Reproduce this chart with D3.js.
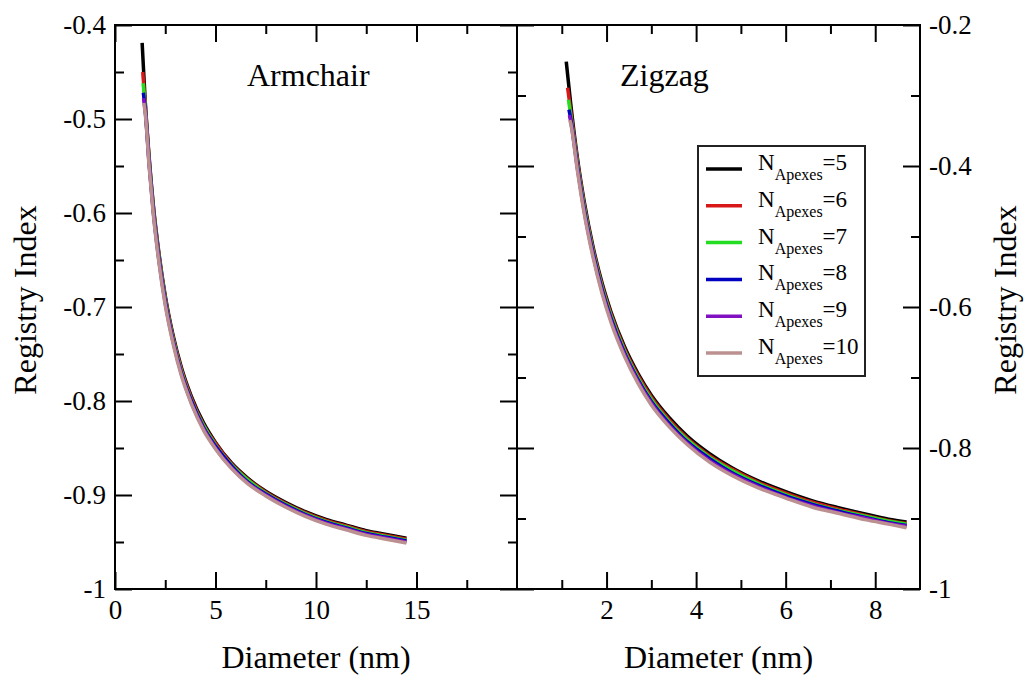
<!DOCTYPE html>
<html>
<head>
<meta charset="utf-8">
<script src="https://cdn.jsdelivr.net/npm/d3@7"></script>
<style>
  body { margin: 0; background: #fff; }
  svg { display: block; }
</style>
</head>
<body>
<div id="container"></div>
<script>
// data
const seriesNames = ["5", "6", "7", "8", "9", "10"];
const seriesColors = ["#000000", "#d81818", "#22dd22", "#0000c0", "#8010c0", "#bc9090"];

// armchair: first point of each series, then a common diameter grid
const armchairFirstD = [1.35, 1.38, 1.40, 1.41, 1.42, 1.43];
const armchairD = [1.5, 1.7, 1.9, 2.2, 2.5, 2.9, 3.3, 3.8, 4.4, 5.0, 5.8, 6.6, 7.5, 8.5, 9.5, 10.5, 11.5, 12.5, 13.5, 14.5];
const armchairN5  = [-0.419, -0.480, -0.541, -0.590, -0.645, -0.688, -0.731, -0.764, -0.795, -0.823, -0.844, -0.866, -0.882, -0.896, -0.908, -0.918, -0.926, -0.932, -0.938, -0.942, -0.946];
const armchairN6  = [-0.450, -0.483, -0.543, -0.592, -0.647, -0.690, -0.733, -0.766, -0.797, -0.825, -0.845, -0.867, -0.883, -0.897, -0.909, -0.919, -0.927, -0.933, -0.939, -0.943, -0.947];
const armchairN7  = [-0.462, -0.486, -0.545, -0.594, -0.649, -0.692, -0.735, -0.768, -0.799, -0.826, -0.847, -0.868, -0.884, -0.898, -0.910, -0.920, -0.928, -0.934, -0.940, -0.944, -0.948];
const armchairN8  = [-0.472, -0.489, -0.547, -0.596, -0.651, -0.694, -0.737, -0.770, -0.800, -0.828, -0.848, -0.869, -0.886, -0.899, -0.911, -0.921, -0.929, -0.935, -0.941, -0.945, -0.949];
const armchairN9  = [-0.478, -0.491, -0.549, -0.598, -0.653, -0.696, -0.738, -0.771, -0.802, -0.829, -0.850, -0.871, -0.887, -0.900, -0.912, -0.922, -0.930, -0.936, -0.942, -0.946, -0.950];
const armchairN10 = [-0.483, -0.493, -0.551, -0.600, -0.655, -0.698, -0.740, -0.773, -0.803, -0.831, -0.851, -0.872, -0.888, -0.901, -0.913, -0.923, -0.931, -0.937, -0.943, -0.947, -0.951];

// zigzag
const zigzagFirstD = [1.10, 1.13, 1.15, 1.16, 1.17, 1.18];
const zigzagD = [1.2, 1.35, 1.5, 1.7, 1.9, 2.1, 2.4, 2.7, 3.0, 3.4, 3.8, 4.3, 4.8, 5.4, 6.0, 6.6, 7.2, 7.8, 8.3, 8.7];
const zigzagN5  = [-0.252, -0.312, -0.389, -0.450, -0.515, -0.566, -0.607, -0.656, -0.694, -0.725, -0.757, -0.783, -0.808, -0.828, -0.847, -0.862, -0.875, -0.885, -0.894, -0.901, -0.905];
const zigzagN6  = [-0.289, -0.322, -0.393, -0.454, -0.518, -0.569, -0.610, -0.659, -0.697, -0.728, -0.760, -0.786, -0.811, -0.830, -0.849, -0.864, -0.877, -0.887, -0.896, -0.903, -0.907];
const zigzagN7  = [-0.306, -0.328, -0.397, -0.457, -0.521, -0.572, -0.613, -0.662, -0.700, -0.731, -0.763, -0.788, -0.813, -0.832, -0.851, -0.866, -0.879, -0.889, -0.897, -0.904, -0.908];
const zigzagN8  = [-0.320, -0.333, -0.401, -0.461, -0.524, -0.575, -0.616, -0.665, -0.703, -0.734, -0.765, -0.791, -0.815, -0.835, -0.853, -0.868, -0.880, -0.890, -0.899, -0.906, -0.910];
const zigzagN9  = [-0.328, -0.337, -0.404, -0.464, -0.527, -0.578, -0.619, -0.667, -0.705, -0.736, -0.768, -0.793, -0.818, -0.837, -0.855, -0.870, -0.882, -0.892, -0.900, -0.907, -0.911];
const zigzagN10 = [-0.335, -0.340, -0.407, -0.467, -0.530, -0.581, -0.622, -0.670, -0.708, -0.739, -0.770, -0.795, -0.820, -0.839, -0.857, -0.871, -0.884, -0.893, -0.902, -0.908, -0.913];

// ticks
const armchairXTicks = [0, 5, 10, 15];
const armchairXMinor = [2.5, 7.5, 12.5, 17.5];
const armchairYTicks = [-1, -0.9, -0.8, -0.7, -0.6, -0.5, -0.4];
const armchairYMinor = [-0.95, -0.85, -0.75, -0.65, -0.55, -0.45];
const zigzagXTicks = [2, 4, 6, 8];
const zigzagXMinor = [1, 3, 5, 7];
const zigzagYTicks = [-1, -0.8, -0.6, -0.4, -0.2];
const zigzagYMinor = [-0.9, -0.7, -0.5, -0.3];

const width = 1024, height = 677;
const plotTop = 25, plotBottom = 589;
const leftX = 115, midX = 517, rightX = 920;
const serif = '"Liberation Serif", "DejaVu Serif", "Times New Roman", serif';

const svg = d3.select("#container").append("svg")
  .attr("width", width)
  .attr("height", height)
  .style("font-family", serif);

const xL = d3.scaleLinear().domain([0, 20]).range([leftX, midX]);
const yL = d3.scaleLinear().domain([-1, -0.4]).range([plotBottom, plotTop]);
const xR = d3.scaleLinear().domain([0, 9]).range([midX, rightX]);
const yR = d3.scaleLinear().domain([-1, -0.2]).range([plotBottom, plotTop]);

const fmt = d => d === -1 ? "-1" : String(d);

function build(firstD, grid, vals) {
  return vals.map((v, i) => ({ d: i === 0 ? firstD : grid[i - 1], r: v }));
}
const armchairSeries = [armchairN5, armchairN6, armchairN7, armchairN8, armchairN9, armchairN10]
  .map((v, i) => build(armchairFirstD[i], armchairD, v));
const zigzagSeries = [zigzagN5, zigzagN6, zigzagN7, zigzagN8, zigzagN9, zigzagN10]
  .map((v, i) => build(zigzagFirstD[i], zigzagD, v));

// curves
function drawLines(series, x, y) {
  const line = d3.line().curve(d3.curveMonotoneX).x(d => x(d.d)).y(d => y(d.r));
  svg.append("g").selectAll("path")
    .data(series)
    .join("path")
      .attr("d", line)
      .attr("fill", "none")
      .attr("stroke", (d, i) => seriesColors[i])
      .attr("stroke-width", 3.5);
}
drawLines(armchairSeries, xL, yL);
drawLines(zigzagSeries, xR, yR);

// axes helper
function tickAxis(axis, pos, vals, size, labels, pad) {
  const g = svg.append("g")
    .attr("transform", pos)
    .call(axis.tickValues(vals).tickSize(size).tickPadding(pad || 8)
      .tickFormat(labels ? fmt : ""));
  g.attr("font-family", null).style("font-family", serif);
  g.select(".domain").remove();
  g.selectAll(".tick line").attr("stroke", "#000").attr("stroke-width", 2);
  g.selectAll(".tick text").style("font-size", "27px").style("font-family", serif).attr("fill", "#000");
  return g;
}

// left panel
tickAxis(d3.axisBottom(xL), `translate(0,${plotBottom})`, armchairXTicks, -17, true, 11);
tickAxis(d3.axisBottom(xL), `translate(0,${plotBottom})`, armchairXMinor, -9, false);
tickAxis(d3.axisTop(xL), `translate(0,${plotTop})`, armchairXTicks, -17, false);
tickAxis(d3.axisTop(xL), `translate(0,${plotTop})`, armchairXMinor, -9, false);
tickAxis(d3.axisLeft(yL), `translate(${leftX},0)`, armchairYTicks, -17, true, 9);
tickAxis(d3.axisLeft(yL), `translate(${leftX},0)`, armchairYMinor, -9, false);
tickAxis(d3.axisRight(yL), `translate(${midX},0)`, armchairYTicks, -17, false);
tickAxis(d3.axisRight(yL), `translate(${midX},0)`, armchairYMinor, -9, false);

// right panel
tickAxis(d3.axisBottom(xR), `translate(0,${plotBottom})`, zigzagXTicks, -17, true, 11);
tickAxis(d3.axisBottom(xR), `translate(0,${plotBottom})`, zigzagXMinor, -9, false);
tickAxis(d3.axisTop(xR), `translate(0,${plotTop})`, zigzagXTicks, -17, false);
tickAxis(d3.axisTop(xR), `translate(0,${plotTop})`, zigzagXMinor, -9, false);
tickAxis(d3.axisRight(yR), `translate(${rightX},0)`, zigzagYTicks, -17, true, 9);
tickAxis(d3.axisRight(yR), `translate(${rightX},0)`, zigzagYMinor, -9, false);
tickAxis(d3.axisLeft(yR), `translate(${midX},0)`, zigzagYTicks, -17, false);
tickAxis(d3.axisLeft(yR), `translate(${midX},0)`, zigzagYMinor, -9, false);

// frames
[[leftX, midX], [midX, rightX]].forEach(([a, b]) => {
  svg.append("rect")
    .attr("x", a).attr("y", plotTop)
    .attr("width", b - a).attr("height", plotBottom - plotTop)
    .attr("fill", "none").attr("stroke", "#000").attr("stroke-width", 2);
});

// titles
svg.append("text").attr("x", 247).attr("y", 86).style("font-size", "32px").text("Armchair");
svg.append("text").attr("x", 620).attr("y", 86).style("font-size", "32px").text("Zigzag");

svg.append("text").attr("x", xL(10)).attr("y", 668).attr("text-anchor", "middle")
  .style("font-size", "32px").text("Diameter (nm)");
svg.append("text").attr("x", xR(4.5)).attr("y", 668).attr("text-anchor", "middle")
  .style("font-size", "32px").text("Diameter (nm)");

svg.append("text").attr("transform", "translate(36,300) rotate(-90)")
  .attr("text-anchor", "middle").style("font-size", "32px").text("Registry Index");
svg.append("text").attr("transform", "translate(1016,300) rotate(-90)")
  .attr("text-anchor", "middle").style("font-size", "32px").text("Registry Index");

// legend
const legend = svg.append("g");
legend.append("rect")
  .attr("x", 698).attr("y", 146).attr("width", 167).attr("height", 230)
  .attr("fill", "#fff").attr("stroke", "#222").attr("stroke-width", 2);
const ly = d3.scaleLinear().domain([0, 5]).range([169, 353]);
const items = legend.selectAll("g.item")
  .data(seriesNames)
  .join("g").attr("class", "item")
  .attr("transform", (d, i) => `translate(0,${ly(i)})`);
items.append("line")
  .attr("x1", 706).attr("x2", 742)
  .attr("stroke", (d, i) => seriesColors[i]).attr("stroke-width", 3.5);
const t = items.append("text").attr("x", 758).attr("y", 1).style("font-size", "23px");
t.append("tspan").text("N");
t.append("tspan").attr("dy", 10).style("font-size", "16px").text("Apexes");
t.append("tspan").attr("dy", -10).text(d => "=" + d);
</script>
</body>
</html>
